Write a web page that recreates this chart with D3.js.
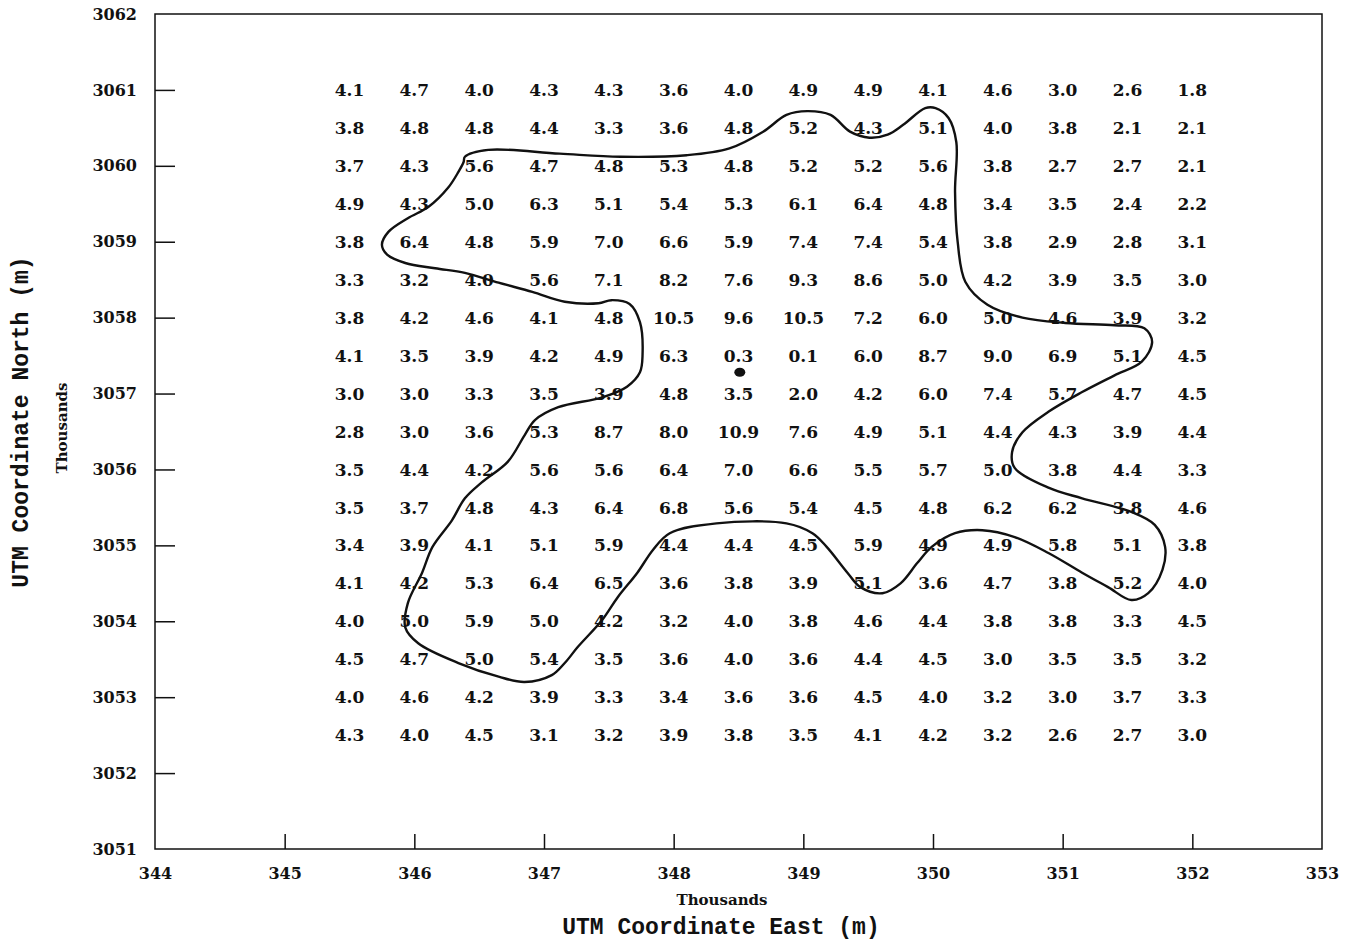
<!DOCTYPE html>
<html>
<head>
<meta charset="utf-8">
<script src="https://cdn.jsdelivr.net/npm/d3@7"></script>
<style>
  body { margin: 0; background: #fff; }
  svg { display: block; }
  .num { font-family: "DejaVu Serif", serif; font-weight: bold; font-size: 17px; fill: #111; }
  .tick text { font-family: "DejaVu Serif", serif; font-weight: bold; font-size: 16px; fill: #111; }
  .ttl { font-family: "Liberation Mono", monospace; font-weight: bold; fill: #111; }
  .sub { font-family: "DejaVu Serif", serif; font-weight: bold; fill: #111; }
</style>
</head>
<body>
<svg id="chart" width="1357" height="941"></svg>
<script>
// grid columns (thousands of m east) and rows (thousands of m north)
var eastings = [345.5, 346, 346.5, 347, 347.5, 348, 348.5, 349, 349.5, 350, 350.5, 351, 351.5, 352];
var northings = [3061, 3060.5, 3060, 3059.5, 3059, 3058.5, 3058, 3057.5, 3057, 3056.5, 3056, 3055.5, 3055, 3054.5, 3054, 3053.5, 3053, 3052.5];

// measured values, one row per northing
var values = [
  [4.1, 4.7, 4.0, 4.3, 4.3, 3.6, 4.0, 4.9, 4.9, 4.1, 4.6, 3.0, 2.6, 1.8],
  [3.8, 4.8, 4.8, 4.4, 3.3, 3.6, 4.8, 5.2, 4.3, 5.1, 4.0, 3.8, 2.1, 2.1],
  [3.7, 4.3, 5.6, 4.7, 4.8, 5.3, 4.8, 5.2, 5.2, 5.6, 3.8, 2.7, 2.7, 2.1],
  [4.9, 4.3, 5.0, 6.3, 5.1, 5.4, 5.3, 6.1, 6.4, 4.8, 3.4, 3.5, 2.4, 2.2],
  [3.8, 6.4, 4.8, 5.9, 7.0, 6.6, 5.9, 7.4, 7.4, 5.4, 3.8, 2.9, 2.8, 3.1],
  [3.3, 3.2, 4.0, 5.6, 7.1, 8.2, 7.6, 9.3, 8.6, 5.0, 4.2, 3.9, 3.5, 3.0],
  [3.8, 4.2, 4.6, 4.1, 4.8, 10.5, 9.6, 10.5, 7.2, 6.0, 5.0, 4.6, 3.9, 3.2],
  [4.1, 3.5, 3.9, 4.2, 4.9, 6.3, 0.3, 0.1, 6.0, 8.7, 9.0, 6.9, 5.1, 4.5],
  [3.0, 3.0, 3.3, 3.5, 3.9, 4.8, 3.5, 2.0, 4.2, 6.0, 7.4, 5.7, 4.7, 4.5],
  [2.8, 3.0, 3.6, 5.3, 8.7, 8.0, 10.9, 7.6, 4.9, 5.1, 4.4, 4.3, 3.9, 4.4],
  [3.5, 4.4, 4.2, 5.6, 5.6, 6.4, 7.0, 6.6, 5.5, 5.7, 5.0, 3.8, 4.4, 3.3],
  [3.5, 3.7, 4.8, 4.3, 6.4, 6.8, 5.6, 5.4, 4.5, 4.8, 6.2, 6.2, 3.8, 4.6],
  [3.4, 3.9, 4.1, 5.1, 5.9, 4.4, 4.4, 4.5, 5.9, 4.9, 4.9, 5.8, 5.1, 3.8],
  [4.1, 4.2, 5.3, 6.4, 6.5, 3.6, 3.8, 3.9, 5.1, 3.6, 4.7, 3.8, 5.2, 4.0],
  [4.0, 5.0, 5.9, 5.0, 4.2, 3.2, 4.0, 3.8, 4.6, 4.4, 3.8, 3.8, 3.3, 4.5],
  [4.5, 4.7, 5.0, 5.4, 3.5, 3.6, 4.0, 3.6, 4.4, 4.5, 3.0, 3.5, 3.5, 3.2],
  [4.0, 4.6, 4.2, 3.9, 3.3, 3.4, 3.6, 3.6, 4.5, 4.0, 3.2, 3.0, 3.7, 3.3],
  [4.3, 4.0, 4.5, 3.1, 3.2, 3.9, 3.8, 3.5, 4.1, 4.2, 3.2, 2.6, 2.7, 3.0]
];

var xTicks = [344, 345, 346, 347, 348, 349, 350, 351, 352, 353];
var yTicks = [3051, 3052, 3053, 3054, 3055, 3056, 3057, 3058, 3059, 3060, 3061, 3062];

// closed contour outline, [east, north] in thousands of m
var contourX = [346.39, 346.57, 347.12, 347.59, 348.10, 348.43, 348.69, 348.87, 349.03, 349.21, 349.36, 349.51, 349.65, 349.77, 349.94, 350.02, 350.12, 350.18, 350.17, 350.19, 350.25, 350.42, 350.69, 351.02, 351.40, 351.63, 351.69, 351.61, 351.40, 351.15, 350.89, 350.69, 350.61, 350.63, 350.89, 351.15, 351.53, 351.71, 351.79, 351.77, 351.66, 351.53, 351.35, 351.15, 350.89, 350.63, 350.38, 350.17, 349.99, 349.88, 349.75, 349.61, 349.44, 349.34, 349.18, 349.07, 348.87, 348.33, 347.97, 347.84, 347.72, 347.57, 347.45, 347.26, 347.16, 347.06, 346.85, 346.65, 346.34, 346.03, 345.93, 345.95, 346.06, 346.14, 346.29, 346.39, 346.52, 346.72, 346.85, 346.93, 347.11, 347.45, 347.64, 347.74, 347.76, 347.74, 347.66, 347.52, 347.42, 347.16, 346.91, 346.65, 346.39, 346.16, 345.93, 345.79, 345.75, 345.80, 345.95, 346.11, 346.26, 346.34, 346.38];
var contourY = [3060.12, 3060.21, 3060.16, 3060.12, 3060.14, 3060.23, 3060.45, 3060.67, 3060.72, 3060.67, 3060.45, 3060.37, 3060.41, 3060.54, 3060.76, 3060.76, 3060.63, 3060.31, 3059.66, 3059.00, 3058.47, 3058.17, 3058.00, 3057.93, 3057.90, 3057.86, 3057.68, 3057.42, 3057.24, 3057.02, 3056.76, 3056.49, 3056.23, 3056.02, 3055.76, 3055.62, 3055.44, 3055.27, 3054.98, 3054.68, 3054.37, 3054.28, 3054.45, 3054.64, 3054.90, 3055.11, 3055.20, 3055.16, 3054.98, 3054.77, 3054.50, 3054.37, 3054.45, 3054.64, 3054.98, 3055.16, 3055.29, 3055.29, 3055.16, 3054.94, 3054.64, 3054.32, 3054.02, 3053.66, 3053.45, 3053.29, 3053.20, 3053.27, 3053.45, 3053.71, 3053.92, 3054.24, 3054.64, 3054.98, 3055.33, 3055.62, 3055.83, 3056.10, 3056.45, 3056.65, 3056.82, 3056.95, 3057.09, 3057.28, 3057.51, 3057.94, 3058.18, 3058.23, 3058.19, 3058.21, 3058.34, 3058.46, 3058.59, 3058.65, 3058.72, 3058.83, 3058.96, 3059.13, 3059.31, 3059.46, 3059.71, 3059.92, 3060.05];

// source location
var source = [348.51, 3057.28];

var svg = d3.select("#chart");
svg.append("rect").attr("width", 1357).attr("height", 941).attr("fill", "#fff");

var x = d3.scaleLinear().domain([344, 353]).range([155, 1322]);
var y = d3.scaleLinear().domain([3051, 3062]).range([849, 14]);

// frame
svg.append("rect")
  .attr("x", x(344)).attr("y", y(3062))
  .attr("width", x(353) - x(344)).attr("height", y(3051) - y(3062))
  .attr("fill", "none").attr("stroke", "#111").attr("stroke-width", 1.5);

// axes, ticks pointing inward
var yAxis = svg.append("g")
  .attr("transform", "translate(" + x(344) + ",0)")
  .call(d3.axisLeft(y).tickValues(yTicks).tickFormat(d3.format("d")).tickSizeInner(-20).tickSizeOuter(0).tickPadding(18));
var xAxis = svg.append("g")
  .attr("transform", "translate(0," + y(3051) + ")")
  .call(d3.axisBottom(x).tickValues(xTicks).tickFormat(d3.format("d")).tickSizeInner(-15).tickSizeOuter(0).tickPadding(19));
svg.selectAll(".domain").remove();
svg.selectAll(".tick line").attr("stroke", "#111").attr("stroke-width", 1.5);
// hide edge ticks that would sit on the frame corners
yAxis.selectAll(".tick").filter(function(d) { return d === 3051 || d === 3062; }).select("line").remove();
xAxis.selectAll(".tick").filter(function(d) { return d === 344 || d === 353; }).select("line").remove();

// grid values
var cells = [];
northings.forEach(function(n, i) {
  eastings.forEach(function(e, j) {
    cells.push({e: e, n: n, v: values[i][j]});
  });
});
svg.append("g").selectAll("text")
  .data(cells)
  .enter()
  .append("text")
  .attr("class", "num")
  .attr("x", function(d) { return x(d.e); })
  .attr("y", function(d) { return y(d.n); })
  .attr("dy", "0.36em")
  .attr("text-anchor", "middle")
  .text(function(d) { return d.v.toFixed(1); });

// contour
var pts = contourX.map(function(v, i) { return [v, contourY[i]]; });
var line = d3.line()
  .x(function(d) { return x(d[0]); })
  .y(function(d) { return y(d[1]); })
  .curve(d3.curveCatmullRomClosed.alpha(0.5));
svg.append("path")
  .datum(pts)
  .attr("d", line)
  .attr("fill", "none")
  .attr("stroke", "#111")
  .attr("stroke-width", 2.4)
  .attr("stroke-linejoin", "round");

// source dot
svg.append("ellipse")
  .attr("cx", x(source[0])).attr("cy", y(source[1]))
  .attr("rx", 5.5).attr("ry", 4.5)
  .attr("fill", "#111");

// axis titles
svg.append("text").attr("class", "sub")
  .attr("x", 722).attr("y", 905)
  .attr("text-anchor", "middle").style("font-size", "15px")
  .text("Thousands");
svg.append("text").attr("class", "ttl")
  .attr("x", 721).attr("y", 934)
  .attr("text-anchor", "middle").style("font-size", "23px")
  .text("UTM Coordinate East (m)");
svg.append("text").attr("class", "ttl")
  .attr("transform", "translate(28,422) rotate(-90)")
  .attr("text-anchor", "middle").style("font-size", "23px")
  .text("UTM Coordinate North (m)");
svg.append("text").attr("class", "sub")
  .attr("transform", "translate(67,428) rotate(-90)")
  .attr("text-anchor", "middle").style("font-size", "15px")
  .text("Thousands");
</script>
</body>
</html>
